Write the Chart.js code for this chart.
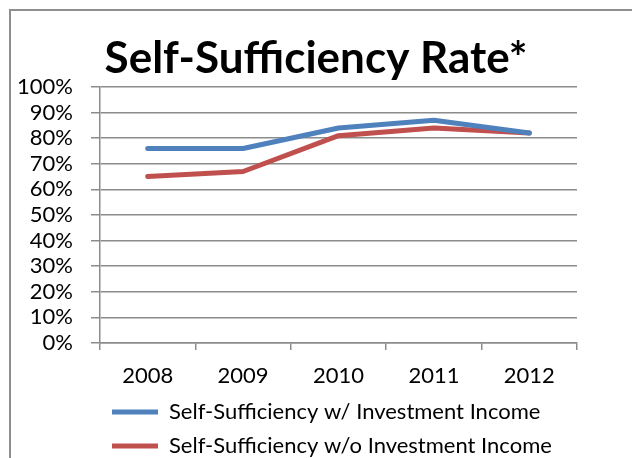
<!DOCTYPE html>
<html>
<head>
<meta charset="utf-8">
<script src="https://cdn.jsdelivr.net/npm/chart.js@4/dist/chart.umd.min.js"></script>
<style>
  html, body { margin: 0; padding: 0; background: #fff; }
  #wrap { position: relative; width: 632px; height: 458px; overflow: hidden; }
  #frame { position: absolute; left: 9px; top: 9px; width: 700px; height: 500px;
           border-left: 2px solid #8e8e8e; border-top: 2px solid #8e8e8e; }
  canvas { position: absolute; left: 0; top: 0; }
</style>
</head>
<body>
<div id="wrap">
  <div id="frame"></div>
  <canvas id="chart" width="632" height="458"></canvas>
</div>
<script>
// ── Data ──────────────────────────────────────────────────────────────────────
const YEARS       = ['2008', '2009', '2010', '2011', '2012'];
const WITH_INV    = [0.76, 0.76, 0.84, 0.87, 0.82];
const WITHOUT_INV = [0.65, 0.67, 0.81, 0.84, 0.82];
const SERIES_NAMES = ['Self-Sufficiency w/ Investment Income', 'Self-Sufficiency w/o Investment Income'];

const COLORS = { blue: '#4F81BD', red: '#C0504D', grid: '#8c8c8c', text: '#000' };
const FONT = "Lato, 'Open Sans', sans-serif";

Chart.defaults.font.family = FONT;
Chart.defaults.color = COLORS.text;

const line = (label, data, color) => ({
  label, data,
  borderColor: color, backgroundColor: color,
  borderWidth: 5, borderCapStyle: 'round', borderJoinStyle: 'round',
  pointRadius: 0, tension: 0, fill: false
});

new Chart(document.getElementById('chart'), {
  type: 'line',
  data: {
    labels: YEARS,
    datasets: [
      line(SERIES_NAMES[0], WITH_INV, COLORS.blue),
      line(SERIES_NAMES[1], WITHOUT_INV, COLORS.red)
    ]
  },
  options: {
    responsive: false, animation: false,
    layout: { padding: { top: 10, right: 0, bottom: -9, left: 0 } },
    plugins: {
      title: {
        display: true, text: 'Self-Sufficiency Rate*', color: '#000',
        font: { size: 44, weight: 'bold', family: FONT, lineHeight: 1.2 },
        padding: { top: 22, bottom: 2.2 }
      },
      legend: {
        position: 'bottom', align: 'start', fullSize: false,
        labels: {
          boxWidth: 46, boxHeight: 5, padding: 12, color: '#000',
          font: { size: 22, family: FONT },
          generateLabels: chart =>
            Chart.defaults.plugins.legend.labels.generateLabels(chart).map(l => ({ ...l, lineWidth: 0 }))
        }
      },
      tooltip: { enabled: false }
    },
    scales: {
      x: {
        offset: true,
        grid: { offset: true, drawOnChartArea: false, drawTicks: true, tickLength: 7, color: COLORS.grid, lineWidth: 1.5 },
        border: { color: COLORS.grid, width: 1.5 },
        ticks: { padding: 13, font: { size: 22 }, color: '#000' },
        afterFit: s => { s.height = 46; }
      },
      y: {
        min: 0, max: 1,
        grid: { color: COLORS.grid, lineWidth: 1.5, tickLength: 9 },
        border: { color: COLORS.grid, width: 1.5 },
        ticks: {
          stepSize: 0.1, autoSkip: false, padding: 18, font: { size: 22 }, color: '#000',
          callback: v => Math.round(v * 100) + '%'
        },
        afterFit: s => { s.width = 100; }
      },
      // empty right-hand axis that only reserves the blank margin on the right
      yRight: {
        position: 'right', min: 0, max: 1,
        grid: { drawOnChartArea: false, drawTicks: false },
        border: { display: false },
        ticks: { display: false },
        afterFit: s => { s.width = 55; }
      }
    }
  }
});
</script>
</body>
</html>
